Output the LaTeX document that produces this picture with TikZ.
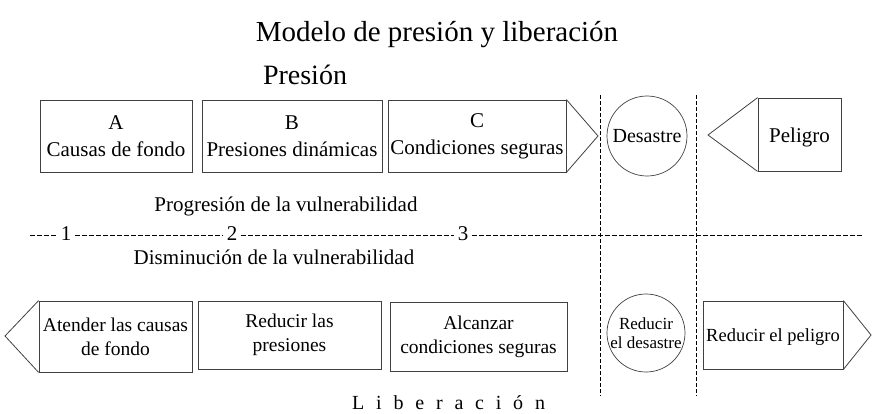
\documentclass[tikz,border=0pt]{standalone}
\usepackage{fontspec}
\setmainfont{Liberation Serif}
\newcommand\lsp{\hspace{11.8pt}}
\begin{document}
\begin{tikzpicture}[x=1pt,y=-1pt,
  box/.style={draw=black!75, line width=0.8pt, rectangle, inner sep=0pt, align=center, font=\fontsize{21}{27}\selectfont},
  bbox/.style={box, font=\fontsize{19.5}{24}\selectfont},
  circ/.style={draw=black!75, line width=0.7pt, circle, inner sep=0pt, align=center},
  vdash/.style={line width=1pt, dash pattern=on 3.5pt off 2.5pt},
  hdash/.style={line width=0.8pt, dash pattern=on 4.5pt off 2.5pt},
  lbl/.style={inner sep=0pt, font=\fontsize{21}{25}\selectfont},
  num/.style={inner xsep=4pt, inner ysep=0pt, font=\fontsize{21}{25}\selectfont}]
\useasboundingbox (0,0) rectangle (872,413);

% titles
\node[lbl, anchor=base, font=\fontsize{29}{33}\selectfont] (title) at (437,41) {Modelo de presión y liberación};
\node[lbl, anchor=base, font=\fontsize{28}{33}\selectfont] (presion) at (305,84) {Presión};

% top row
\node[box, minimum width=152, minimum height=72] (A) at (116,136) {A\\Causas de fondo};
\node[box, minimum width=180, minimum height=72] (B) at (292,136) {B\\Presiones dinámicas};
\node[box, minimum width=178, minimum height=72] (C) at (477,136) {C\\Condiciones seguras};
\coordinate (Ctip) at (598,136);
\draw[draw=black!75, line width=0.8pt] (C.north east) -- (Ctip) -- (C.south east);

\node[circ, minimum size=80, font=\fontsize{20}{24}\selectfont] (des) at (647,136) {Desastre};

\node[box, minimum width=83, minimum height=73] (pel) at (799.5,134.5) {};
\node[lbl, anchor=base] (peltext) at (799.5,142) {Peligro};
\coordinate (Ptip) at (708,135);
\draw[draw=black!75, line width=0.8pt] (pel.north west) -- (Ptip) -- (pel.south west);

% middle labels
\node[lbl, anchor=base] (prog) at (286,211) {Progresión de la vulnerabilidad};
\node[lbl, anchor=base] (dism) at (274,264) {Disminución de la vulnerabilidad};

% horizontal dashed line with numbers
\coordinate (h0) at (30,235);
\coordinate (h4) at (862,235);
\node[num] (n1) at (66,233.5) {1};
\node[num] (n2) at (232,233.5) {2};
\node[num] (n3) at (463,233.5) {3};
\draw[hdash] (h0) -- (h0 -| n1.west);
\draw[hdash] (h0 -| n1.east) -- (h0 -| n2.west);
\draw[hdash] (h0 -| n2.east) -- (h0 -| n3.west);
\draw[hdash] (h0 -| n3.east) -- (h4);

% vertical dashed lines
\coordinate (v1t) at (600,95);
\coordinate (v1b) at (600,396);
\coordinate (v2t) at (696,95);
\coordinate (v2b) at (696,396);
\draw[vdash] (v1t) -- (v1b);
\draw[vdash] (v2t) -- (v2b);

% bottom row
\node[bbox, minimum width=153, minimum height=71] (atn) at (115.5,336.5) {Atender las causas\\de fondo};
\coordinate (Atip) at (5,336);
\draw[draw=black!75, line width=0.8pt] (atn.north west) -- (Atip) -- (atn.south west);

\node[bbox, minimum width=183, minimum height=68] (red) at (289.5,335) {Reducir las\\presiones};
\node[bbox, minimum width=177, minimum height=69] (alc) at (478.5,336.5) {Alcanzar\\condiciones seguras};

\node[circ, minimum size=78, font=\fontsize{17}{19}\selectfont] (rdes) at (646,333) {Reducir\\el desastre};

\node[bbox, minimum width=140, minimum height=68] (rpel) at (773,335) {};
\node[lbl, anchor=base, font=\fontsize{18.5}{23}\selectfont] (rpeltext) at (773,341) {Reducir el peligro};
\coordinate (Rtip) at (871,335);
\draw[draw=black!75, line width=0.8pt] (rpel.north east) -- (Rtip) -- (rpel.south east);

\node[lbl, anchor=base west, font=\fontsize{20}{24}\selectfont] (lib) at (352,409) {L\lsp i\lsp b\lsp e\lsp r\lsp a\lsp c\lsp i\lsp ó\lsp n};
\end{tikzpicture}
\end{document}
